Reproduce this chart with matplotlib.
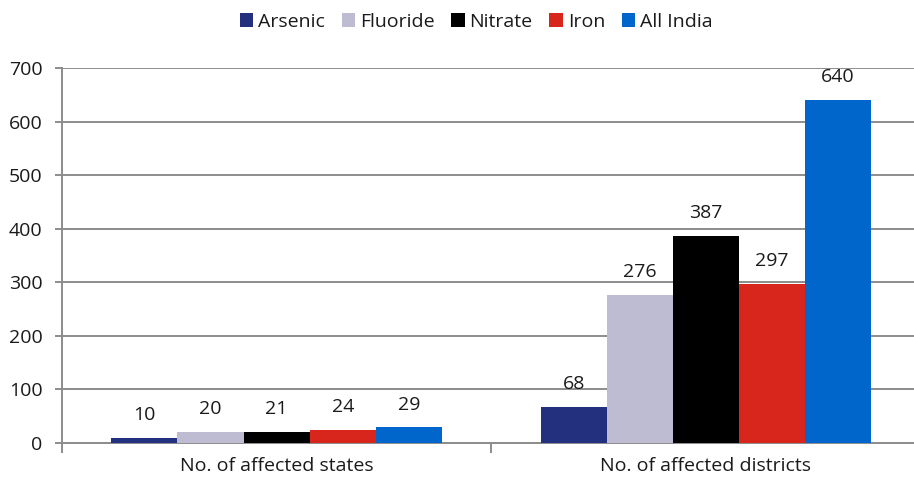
import numpy as np
import matplotlib.pyplot as plt

plt.rcParams['font.family'] = ['Open Sans', 'DejaVu Sans']

# Groundwater contamination counts
categories = ['No. of affected states', 'No. of affected districts']
series = ['Arsenic', 'Fluoride', 'Nitrate', 'Iron', 'All India']
arsenic = [10, 68]
fluoride = [20, 276]
nitrate = [21, 387]
iron = [24, 297]
all_india = [29, 640]
colors = ['#22307e', '#bdbcd2', '#000000', '#d9261c', '#0066cc']

values = [arsenic, fluoride, nitrate, iron, all_india]

fig = plt.figure(figsize=(9.14, 4.8), dpi=100)
ax = fig.add_axes([62 / 914, 1 - 443 / 480, (920.5 - 62) / 914, 375 / 480])

x = np.arange(len(categories))
width = 0.154
for i, (name, vals, c) in enumerate(zip(series, values, colors)):
    pos = x + (i - 2) * width
    bars = ax.bar(pos, vals, width, color=c, label=name, zorder=3)
    for b, v in zip(bars, vals):
        ax.annotate(str(v), (b.get_x() + b.get_width() / 2, v),
                    xytext=(0, 10), textcoords='offset points',
                    ha='center', va='bottom', fontsize=14, color='#1a1a1a')

ax.set_ylim(0, 700)
ax.set_xlim(-0.5, 1.5)
ax.set_yticks(range(0, 701, 100))
ax.grid(axis='y', color='#8c8c8c', linewidth=1.4, zorder=0)

for s in ['top', 'right']:
    ax.spines[s].set_visible(False)
ax.spines['left'].set_color('#8c8c8c')
ax.spines['left'].set_linewidth(1.4)
ax.spines['bottom'].set_color('#8c8c8c')
ax.spines['bottom'].set_linewidth(1.4)

ax.tick_params(axis='y', length=5, width=1.4, color='#8c8c8c',
               labelsize=14, labelcolor='#1a1a1a', pad=9)
ax.set_xticks(x)
ax.set_xticklabels(categories)
ax.tick_params(axis='x', length=0, labelsize=14, labelcolor='#1a1a1a', pad=10)
ax.set_xticks([-0.5, 0.5, 1.5], minor=True)
ax.tick_params(axis='x', which='minor', length=7, width=1.4, color='#8c8c8c')

fig.legend(loc='upper center', bbox_to_anchor=(0.521, 1.01), ncol=5, frameon=False,
           fontsize=14, handlelength=0.7, handleheight=0.7, handletextpad=0.25,
           columnspacing=0.85, labelcolor='#1a1a1a')

fig.savefig('out.png', dpi=100)
